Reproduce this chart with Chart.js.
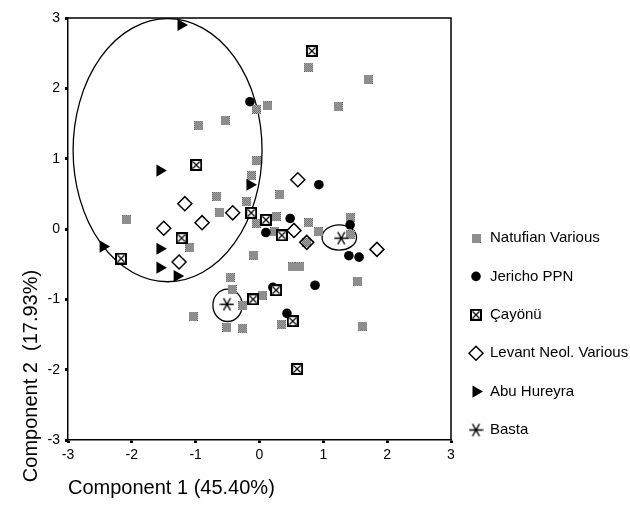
<!DOCTYPE html>
<html>
<head>
<meta charset="utf-8">
<script src="https://cdn.jsdelivr.net/npm/chart.js@4.4.1/dist/chart.umd.min.js"></script>
<style>
  html, body { margin: 0; padding: 0; background: #fff; }
  canvas { display: block; }
</style>
</head>
<body>
<canvas id="pca" width="630" height="512"></canvas>
<script>
// PCA scatter – component 1 vs component 2, groups with hand-drawn ellipses

const groupNames = ["Natufian Various", "Jericho PPN", "Çayönü", "Levant Neol. Various", "Abu Hureyra", "Basta"];

const natufian = [
  [0.77, 2.30], [1.70, 2.13], [1.23, 1.74], [0.12, 1.75], [-0.05, 1.70], [-0.95, 1.47],
  [-0.54, 1.54], [-0.05, 0.97], [-0.13, 0.76], [0.32, 0.49], [-0.67, 0.46], [-0.20, 0.39],
  [-2.08, 0.13], [-0.62, 0.23], [-0.05, 0.08], [0.26, 0.18], [0.24, -0.04], [0.77, 0.09],
  [0.92, -0.04], [1.42, 0.16], [1.42, -0.08], [0.74, -0.19], [-1.09, -0.26], [-0.09, -0.37],
  [0.52, -0.54], [0.63, -0.54], [-0.46, -0.69], [-0.43, -0.86], [-0.26, -1.09], [0.04, -0.94],
  [-1.04, -1.24], [-0.51, -1.40], [-0.27, -1.41], [0.34, -1.36], [1.54, -0.74], [1.61, -1.38]
];
const jericho = [
  [-0.15, 1.81], [0.93, 0.63], [0.48, 0.15], [0.10, -0.05], [1.42, 0.06],
  [1.40, -0.38], [1.56, -0.40], [0.87, -0.80], [0.43, -1.20], [0.21, -0.83]
];
const cayonu = [
  [0.82, 2.53], [-0.99, 0.91], [-0.13, 0.23], [0.10, 0.13], [0.35, -0.09], [-1.22, -0.13],
  [-2.17, -0.42], [-0.10, -1.00], [0.26, -0.87], [0.52, -1.31], [0.59, -1.99]
];
const levant = [
  [-1.17, 0.36], [-1.50, 0.01], [-0.90, 0.09], [-0.42, 0.23], [-1.26, -0.47],
  [0.60, 0.70], [0.54, -0.02], [0.74, -0.19], [1.84, -0.29]
];
const abuHureyra = [
  [-1.23, 2.90], [-1.56, 0.83], [-0.15, 0.63], [-2.45, -0.25],
  [-1.56, -0.28], [-1.56, -0.55], [-1.29, -0.67]
];
const basta = [[-0.51, -1.07], [1.28, -0.13]];

const axisTicks = [-3, -2, -1, 0, 1, 2, 3];

// ellipses in data units: centre x, centre y, half width, half height
const groupEllipses = [
  [-1.44, 1.12, 1.48, 1.87],
  [-0.50, -1.085, 0.23, 0.23],
  [1.25, -0.12, 0.27, 0.18]
];

const FONT = "'Liberation Sans', Arial, sans-serif";

// --- marker images ---
function makeDither(s) {
  const c = document.createElement("canvas");
  c.width = c.height = s;
  const g = c.getContext("2d");
  for (let y = 0; y < s; y++) {
    for (let x = 0; x < s; x++) {
      g.fillStyle = (x + y) % 2 ? "#c4c4c4" : "#585858";
      g.fillRect(x, y, 1, 1);
    }
  }
  return c;
}

function makeBoxX(s) {
  const c = document.createElement("canvas");
  c.width = c.height = s;
  const g = c.getContext("2d");
  g.fillStyle = "#fff";
  g.fillRect(0, 0, s, s);
  g.strokeStyle = "#000";
  g.lineWidth = 2;
  g.strokeRect(1, 1, s - 2, s - 2);
  g.lineWidth = 1.2;
  g.beginPath();
  g.moveTo(2.5, 2.5); g.lineTo(s - 2.5, s - 2.5);
  g.moveTo(s - 2.5, 2.5); g.lineTo(2.5, s - 2.5);
  g.stroke();
  return c;
}

function makeAsterisk(s) {
  const c = document.createElement("canvas");
  c.width = c.height = s;
  const g = c.getContext("2d");
  const r = s / 2 - 0.5;
  g.strokeStyle = "#000";
  g.lineWidth = 1.3;
  g.beginPath();
  [0, 60, 120].forEach(a => {
    const t = a * Math.PI / 180;
    g.moveTo(s / 2 - Math.cos(t) * r, s / 2 - Math.sin(t) * r);
    g.lineTo(s / 2 + Math.cos(t) * r, s / 2 + Math.sin(t) * r);
  });
  g.stroke();
  return c;
}

const toXY = arr => arr.map(p => ({ x: p[0], y: p[1] }));

// frame, ellipses, y title and legend
const decorPlugin = {
  id: "decor",
  beforeDatasetsDraw(chart) {
    const { ctx, scales: { x, y } } = chart;
    ctx.save();
    ctx.strokeStyle = "#000";
    ctx.lineWidth = 1.3;
    groupEllipses.forEach(e => {
      const cx = x.getPixelForValue(e[0]);
      const cy = y.getPixelForValue(e[1]);
      const rx = Math.abs(x.getPixelForValue(e[0] + e[2]) - cx);
      const ry = Math.abs(y.getPixelForValue(e[1] + e[3]) - cy);
      ctx.beginPath();
      ctx.ellipse(cx, cy, rx, ry, 0, 0, Math.PI * 2);
      ctx.stroke();
    });
    ctx.restore();
  },
  afterDraw(chart) {
    const { ctx, chartArea: a } = chart;
    ctx.save();
    ctx.strokeStyle = "#000";
    ctx.lineWidth = 1.5;
    ctx.beginPath();
    ctx.moveTo(a.left, a.top);
    ctx.lineTo(a.right, a.top);
    ctx.lineTo(a.right, a.bottom);
    ctx.stroke();

    // y axis title
    ctx.fillStyle = "#000";
    ctx.font = "20px " + FONT;
    ctx.textAlign = "center";
    ctx.textBaseline = "middle";
    ctx.translate(31, 376);
    ctx.rotate(-Math.PI / 2);
    ctx.fillText("Component 2  (17.93%)", 0, 0);
    ctx.restore();

    // legend
    ctx.save();
    ctx.font = "15px " + FONT;
    ctx.textBaseline = "middle";
    ctx.textAlign = "left";
    chart.data.datasets.forEach((ds, i) => {
      const ly = 238 + i * 38.4;
      ctx.fillStyle = ds.pointBackgroundColor || "#000";
      ctx.strokeStyle = ds.pointBorderColor || "#000";
      ctx.lineWidth = ds.pointBorderWidth || 0;
      Chart.helpers.drawPoint(ctx, {
        pointStyle: ds.pointStyle,
        rotation: ds.pointRotation || 0,
        radius: ds.pointRadius,
        borderWidth: ds.pointBorderWidth || 0
      }, 476, ly);
      ctx.fillStyle = "#000";
      ctx.fillText(ds.label, 490, ly);
    });
    ctx.restore();
  }
};

new Chart(document.getElementById("pca"), {
  type: "scatter",
  data: {
    datasets: [
      { label: groupNames[0], data: toXY(natufian), order: 6,
        pointStyle: makeDither(9), pointRadius: 4.5, pointBorderWidth: 0 },
      { label: groupNames[1], data: toXY(jericho), order: 5,
        pointStyle: "circle", pointRadius: 4.8, pointBackgroundColor: "#000",
        pointBorderColor: "#000", pointBorderWidth: 0 },
      { label: groupNames[2], data: toXY(cayonu), order: 4,
        pointStyle: makeBoxX(12), pointRadius: 6, pointBorderWidth: 0 },
      { label: groupNames[3], data: toXY(levant), order: 3,
        pointStyle: "rectRot", pointRadius: 7, pointBackgroundColor: "rgba(255,255,255,0)",
        pointBorderColor: "#000", pointBorderWidth: 1.5 },
      { label: groupNames[4], data: toXY(abuHureyra), order: 2,
        pointStyle: "triangle", pointRotation: 90, pointRadius: 7, pointBackgroundColor: "#000",
        pointBorderColor: "#000", pointBorderWidth: 0 },
      { label: groupNames[5], data: toXY(basta), order: 1,
        pointStyle: makeAsterisk(15), pointRadius: 7, pointBorderWidth: 0 }
    ]
  },
  options: {
    responsive: false,
    animation: false,
    layout: { padding: { top: 18, right: 179, left: 0, bottom: 0 } },
    plugins: {
      legend: { display: false },
      tooltip: { enabled: false }
    },
    scales: {
      x: {
        type: "linear",
        min: -3,
        max: 3,
        afterBuildTicks: s => { s.ticks = axisTicks.map(v => ({ value: v })); },
        afterFit: s => { s.height = 72; },
        grid: { drawOnChartArea: false, tickLength: 3, tickWidth: 3, tickColor: "#000" },
        border: { color: "#000", width: 1.5 },
        ticks: { color: "#000", font: { family: FONT, size: 14 }, padding: 4, maxRotation: 0 },
        title: {
          display: true, text: "Component 1 (45.40%)", align: "start", color: "#000",
          font: { family: FONT, size: 20 }, padding: { top: 0, bottom: 12 }
        }
      },
      y: {
        type: "linear",
        min: -3,
        max: 3,
        afterBuildTicks: s => { s.ticks = axisTicks.map(v => ({ value: v })); },
        afterFit: s => { s.width = 68; },
        grid: { drawOnChartArea: false, tickLength: 3, tickWidth: 3, tickColor: "#000" },
        border: { color: "#000", width: 1.5 },
        ticks: { color: "#000", font: { family: FONT, size: 14 }, padding: 5 }
      }
    }
  },
  plugins: [decorPlugin]
});
</script>
</body>
</html>
